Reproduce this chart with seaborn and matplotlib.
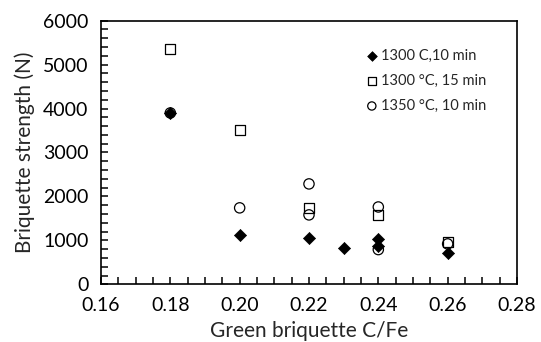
import numpy as np
import pandas as pd
import matplotlib
matplotlib.use("Agg")
import matplotlib.pyplot as plt
from matplotlib.ticker import MultipleLocator
import seaborn as sns

# data
cfe_1300_10 = [0.18, 0.20, 0.22, 0.23, 0.24, 0.24, 0.26]
str_1300_10 = [3900, 1115, 1055, 835, 1025, 870, 715]

cfe_1300_15 = [0.18, 0.20, 0.22, 0.24, 0.26]
str_1300_15 = [5350, 3510, 1740, 1570, 955]

cfe_1350_10 = [0.18, 0.20, 0.22, 0.22, 0.24, 0.24, 0.26]
str_1350_10 = [3900, 1740, 2285, 1580, 1760, 790, 920]

labels = ["1300 C,10 min", "1300 \u00b0C, 15 min", "1350 \u00b0C, 10 min"]

sns.set_style("ticks")
plt.rcParams["font.family"] = ["Lato", "DejaVu Sans"]
plt.rcParams["xtick.direction"] = "in"
plt.rcParams["ytick.direction"] = "in"

fig = plt.figure(figsize=(5.41, 3.42), dpi=100)
ax = fig.add_axes([0.1867, 0.1687, 0.9556 - 0.1867, 0.9395 - 0.1687])

df_sq = pd.DataFrame({"x": cfe_1300_15, "y": str_1300_15})
df_ci = pd.DataFrame({"x": cfe_1350_10, "y": str_1350_10})
df_di = pd.DataFrame({"x": cfe_1300_10, "y": str_1300_10})

sns.scatterplot(data=df_di, x="x", y="y", marker="D", s=38, color="black",
                edgecolor="black", linewidth=0.5, label=labels[0], ax=ax, zorder=4)
sns.scatterplot(data=df_sq, x="x", y="y", marker="s", s=55, facecolor="none",
                edgecolor="black", linewidth=0.9, label=labels[1], ax=ax, zorder=3)
sns.scatterplot(data=df_ci, x="x", y="y", marker="o", s=55, facecolor="none",
                edgecolor="black", linewidth=0.9, label=labels[2], ax=ax, zorder=3)

ax.set_xlim(0.16, 0.28)
ax.set_ylim(0, 6000)
ax.xaxis.set_major_locator(MultipleLocator(0.02))
ax.xaxis.set_minor_locator(MultipleLocator(0.005))
ax.yaxis.set_major_locator(MultipleLocator(1000))
ax.yaxis.set_minor_locator(MultipleLocator(200))
ax.xaxis.set_major_formatter(plt.FuncFormatter(lambda v, p: f"{v:.2f}"))

ax.tick_params(which="both", direction="in", length=5, width=1.1, colors="black",
               top=False, right=False)
ax.tick_params(axis="x", which="major", labelsize=14, pad=9)
ax.tick_params(axis="y", which="major", labelsize=14, pad=9)

for sp in ax.spines.values():
    sp.set_color("black")
    sp.set_linewidth(1.2)

ax.set_xlabel("Green briquette C/Fe", fontsize=15, labelpad=5)
ax.set_ylabel("Briquette strength (N)", fontsize=15, labelpad=6)

leg = ax.legend(loc="upper left", bbox_to_anchor=(0.623, 0.915), frameon=False,
                fontsize=10.5, handletextpad=0.2, labelspacing=0.75,
                handlelength=0.8, borderaxespad=0, markerscale=0.8)

fig.savefig("out.png", dpi=100)
